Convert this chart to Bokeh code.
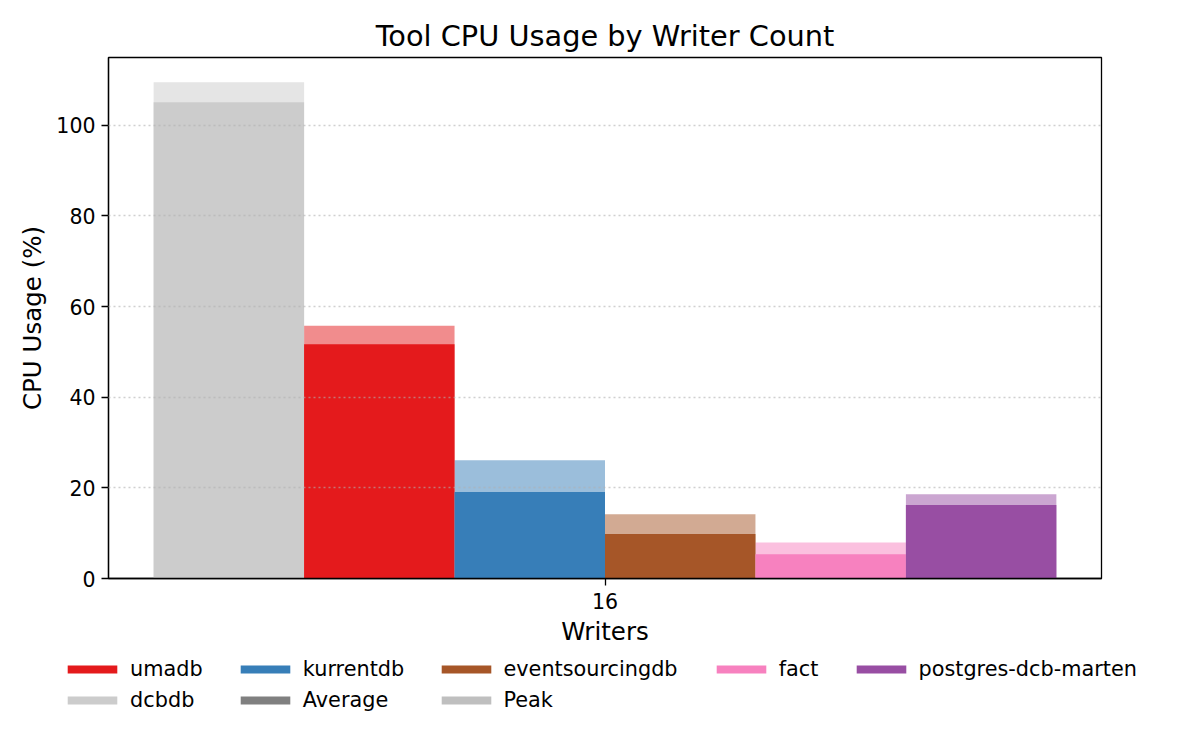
from bokeh.plotting import figure
from bokeh.layouts import column
from bokeh.models import Legend, LegendItem, ColumnDataSource, FixedTicker, Range1d
from bokeh.embed import file_html
from bokeh.resources import INLINE

# ---- data ----
writers = ["16"]
tools = ["dcbdb", "umadb", "kurrentdb", "eventsourcingdb", "fact", "postgres-dcb-marten"]
avg_cpu = [105.1, 51.7, 19.1, 9.8, 5.35, 16.2]
peak_cpu = [109.5, 55.8, 26.1, 14.2, 7.95, 18.6]
colors = ["#cccccc", "#e41a1c", "#377eb8", "#a65628", "#f781bf", "#984ea3"]
average_color = "#808080"
peak_color = "#bfbfbf"
y_ticks = [0, 20, 40, 60, 80, 100]

FONT = "DejaVu Sans"
W = 1184
MAIN_H = 650
LEG_H = 84
bar_w = 0.15
n = len(tools)
xs = [0 + (i - (n - 1) / 2) * bar_w for i in range(n)]
src = ColumnDataSource(dict(x=xs, tool=tools, avg=avg_cpu, peak=peak_cpu, color=colors))

half = n * bar_w / 2 * 1.1
p = figure(width=W, height=MAIN_H, output_backend="svg", toolbar_location=None,
           x_range=Range1d(-half, half), y_range=Range1d(0, 1.05 * max(peak_cpu)),
           min_border_left=108, min_border_right=W - 1101, min_border_top=57,
           min_border_bottom=MAIN_H - 578)
p.frame_align = False

p.title.text = "Tool CPU Usage by Writer Count"
p.title.align = "center"
p.title.text_font = FONT
p.title.text_font_size = "28.8px"
p.title.text_font_style = "normal"
p.title.text_color = "black"
p.title.standoff = 10

p.outline_line_color = "black"
p.outline_line_width = 1.3

peak_r = p.vbar(x="x", top="peak", bottom=0, width=bar_w, source=src,
                fill_color="color", fill_alpha=0.5, line_color=None)
avg_r = p.vbar(x="x", top="avg", bottom=0, width=bar_w, source=src,
               fill_color="color", line_color=None)

# axes
p.xaxis.ticker = FixedTicker(ticks=[0])
p.xaxis.major_label_overrides = {0: writers[0]}
p.yaxis.ticker = FixedTicker(ticks=y_ticks)
p.xaxis.axis_label = "Writers"
p.yaxis.axis_label = "CPU Usage (%)"
for ax in (p.xaxis[0], p.yaxis[0]):
    ax.axis_label_text_font = FONT
    ax.axis_label_text_font_size = "24.5px"
    ax.axis_label_text_font_style = "normal"
    ax.axis_label_text_color = "black"
    ax.major_label_text_font = FONT
    ax.major_label_text_font_size = "20.5px"
    ax.major_label_text_color = "black"
    ax.major_tick_out = 7
    ax.major_tick_in = 0
    ax.major_tick_line_width = 1.3
    ax.major_tick_line_color = "black"
    ax.minor_tick_line_color = None
    ax.axis_line_color = "black"
    ax.axis_line_width = 1.3
p.xaxis.major_label_standoff = 7
p.xaxis.axis_label_standoff = 5
p.yaxis.major_label_standoff = 6
p.yaxis.axis_label_standoff = 6

p.xgrid.visible = False
p.ygrid.grid_line_color = "#b0b0b0"
p.ygrid.grid_line_alpha = 0.6
p.ygrid.grid_line_width = 1.5
p.ygrid.grid_line_dash = "2 3"
p.ygrid.level = "overlay"

# ---- legend strip (separate figure below) ----
lg_fig = figure(width=W, height=LEG_H, output_backend="svg", toolbar_location=None,
                x_axis_type=None, y_axis_type=None, min_border=0,
                x_range=Range1d(0, 1), y_range=Range1d(0, 1))
lg_fig.frame_align = False
lg_fig.outline_line_color = None
lg_fig.grid.visible = False

lg_labels = tools + ["Average", "Peak"]
lg_src = ColumnDataSource(dict(label=lg_labels, color=colors + [average_color, peak_color]))
# zero-size swatch renderer: only its legend glyphs are seen
sw = lg_fig.vbar(x=0, top=0, bottom=0, width=0, source=lg_src,
                 fill_color="color", line_color=None)

cols = [
    [tools[1], tools[0]],
    [tools[2], "Average"],
    [tools[3], "Peak"],
    [tools[4]],
    [tools[5]],
]
col_x = [67.3, 240, 440.7, 716, 855.7]
for labels, cx in zip(cols, col_x):
    items = [LegendItem(label=l, renderers=[sw], index=lg_labels.index(l)) for l in labels]
    yb = 22 if len(labels) == 2 else 53
    lg = Legend(items=items, location=(cx - 6.2, yb), orientation="vertical",
                glyph_width=62, glyph_height=10, label_standoff=7,
                label_text_font=FONT, label_text_font_size="20.8px", label_text_color="black",
                spacing=7, padding=0, margin=0, label_height=20,
                border_line_color=None, background_fill_alpha=0)
    lg_fig.add_layout(lg, "center")

layout = column(p, lg_fig, spacing=0)
open("out.html", "w").write(file_html(layout, INLINE))
